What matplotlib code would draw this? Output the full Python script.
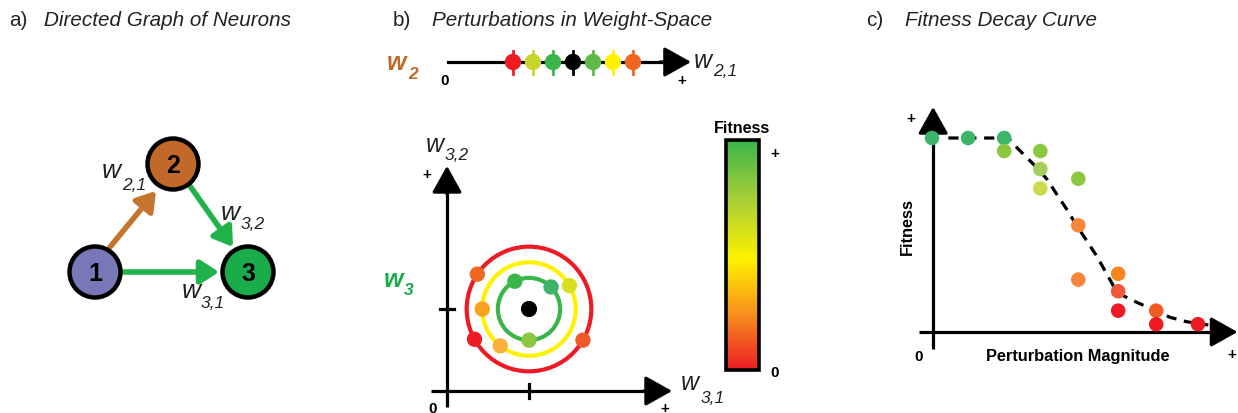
import numpy as np
import matplotlib
matplotlib.use('Agg')
import matplotlib.pyplot as plt
from matplotlib.patches import Circle
from matplotlib.colors import LinearSegmentedColormap

plt.rcParams['font.family'] = ['Liberation Sans', 'DejaVu Sans']

# panel a: three neurons and their connections
node_labels = ['1', '2', '3']
node_colors = ['#7878b9', '#c1692b', '#1aab4a']
node_xy = [(95, 273), (173, 165), (248, 273)]
edges = [((110, 248), (156, 192), '#c4762f'),
         ((190, 187), (233, 248), '#22b24c'),
         ((123, 273), (219, 273), '#22b24c')]

# panel b: 1-D perturbations along w2,1 (left to right)
line_colors = ['#ed1c24', '#c9d52c', '#39b54a', '#000000', '#5cba47', '#fff200', '#f26522']

# panel b: 2-D perturbations of w3 around the trained weights (1, 1)
ring_radius = [0.38, 0.57, 0.76]
ring_colors = ['#39b54a', '#fff200', '#ed1c24']
ring_dots = [  # (ring index, angle in degrees, colour)
    (0, 117, '#39b54a'), (0, 45, '#3cb46a'), (0, -90, '#8dc63f'),
    (1, 30, '#d7df23'), (1, 180, '#f8a21d'), (1, -128, '#fbb040'),
    (2, 146, '#f26522'), (2, -151, '#ed1c24'), (2, -30, '#f15a29'),
]

# colour scale for fitness, bottom (0) to top (+)
cbar_stops = [(0.0, '#ed1c24'), (0.25, '#f7941d'), (0.48, '#fff200'),
              (0.75, '#a6ce39'), (1.0, '#39b54a')]

# panel c: fitness against perturbation magnitude
magnitude = [0, 0.95, 1.9, 1.9, 2.85, 2.85, 2.85, 3.85, 3.85, 3.85,
             4.9, 4.9, 4.9, 5.9, 5.9, 7.0]
fitness = [1.0, 1.0, 1.0, 0.933, 0.933, 0.84, 0.74, 0.79, 0.55, 0.27,
           0.30, 0.21, 0.11, 0.11, 0.04, 0.04]
point_colors = ['#3cb56a', '#3cb56a', '#3cb56a', '#8dc63f', '#8dc63f', '#a5cf5c',
                '#cbdb4b', '#8dc63f', '#f7863a', '#f7863a', '#f7861e', '#f05a3a',
                '#ed1c24', '#f15a22', '#ed1c24', '#ed1c24']
curve_m = [0.43, 2.01, 2.14, 2.49, 2.75, 3.02, 3.28, 3.54, 3.81, 4.07, 4.33,
           4.60, 4.77, 5.03, 5.39, 5.82, 6.26, 6.70, 7.27]
curve_f = [1.0, 1.0, 0.969, 0.90, 0.849, 0.789, 0.711, 0.634, 0.548, 0.471, 0.393,
           0.299, 0.239, 0.187, 0.153, 0.115, 0.076, 0.053, 0.036]

W, H = 1238, 414
fig = plt.figure(figsize=(W / 100, H / 100), dpi=100)
ax = fig.add_axes([0, 0, 1, 1])
ax.set_xlim(0, W)
ax.set_ylim(H, 0)
ax.axis('off')

AX_LW = 2.3
TXT = '#222222'


def arrow(a, p0, p1, lw=AX_LW, color='k', hl=0.75, hw=0.42, ms=22, z=3):
    a.annotate('', xy=p1, xytext=p0, zorder=z,
               arrowprops=dict(arrowstyle='-|>,head_length=%s,head_width=%s' % (hl, hw),
                               lw=lw, color=color, shrinkA=0, shrinkB=0,
                               mutation_scale=ms))


def wlabel(x, y, sub, color=TXT, size=19, subsize=12.5, weight='normal', dx=19, dy=10):
    ax.text(x, y, 'w', fontsize=size, style='italic', weight=weight, color=color,
            ha='left', va='baseline')
    ax.text(x + dx, y + dy, sub, fontsize=subsize, style='italic', weight=weight,
            color=color, ha='left', va='baseline')


def title(x, xi, label, text):
    ax.text(x, 26, label, fontsize=14.9, color=TXT, ha='left', va='baseline')
    ax.text(xi, 26, text, fontsize=14.9, style='italic', color=TXT,
            ha='left', va='baseline')


def mark(x, y, s, size=11):
    ax.text(x, y, s, fontsize=size, weight='bold', ha='center', va='baseline')


title(9, 44, 'a)', 'Directed Graph of Neurons')
title(393, 432, 'b)', 'Perturbations in Weight-Space')
title(866, 905, 'c)', 'Fitness Decay Curve')

# ---- panel a ----
for p0, p1, c in edges:
    arrow(ax, p0, p1, lw=4.0, color=c, hl=0.65, hw=0.42, ms=17, z=2)
for lab, c, xy in zip(node_labels, node_colors, node_xy):
    ax.add_patch(Circle(xy, 25.5, facecolor=c, edgecolor='k', lw=3.2, zorder=4))
    ax.text(xy[0], xy[1] + 1, lab, fontsize=18, weight='bold', ha='center',
            va='center', zorder=5)
wlabel(102, 178, '2,1', dx=20, dy=12)
wlabel(221, 220, '3,2', dx=20, dy=9)
wlabel(182, 298, '3,1', dx=19, dy=10)

# ---- panel b, top line ----
ax.plot([448, 672], [63, 63], color='k', lw=AX_LW, zorder=2)
arrow(ax, (660, 63), (691, 63))
for i, c in enumerate(line_colors):
    x = 573 + (i - 3) * 20
    ax.plot([x, x], [52, 75], color=c, lw=2, zorder=3)
    ax.add_patch(Circle((x, 63), 7.5, color=c, zorder=4))
mark(445, 85, '0')
mark(682, 85, '+')
wlabel(694, 68, '2,1', size=18, subsize=12.5, dx=19, dy=8)
wlabel(387, 70, '2', color='#c1692b', size=18, subsize=12.5, weight='bold', dx=21, dy=9)
wlabel(384, 287, '3', color='#1aab4a', size=18, subsize=12.5, weight='bold', dx=20, dy=8)

# ---- panel b, weight space of w3 ----
u = 82.0
ax_b = fig.add_axes([400 / W, 0, 300 / W, 284 / H])
ax_b.set_xlim((400 - 447) / u, (700 - 447) / u)
ax_b.set_ylim((392 - 414) / u, (392 - 130) / u)
ax_b.axis('off')
ax_b.plot([-0.195, 2.5], [0, 0], color='k', lw=AX_LW, solid_capstyle='butt')
ax_b.plot([0, 0], [-0.195, 2.5], color='k', lw=AX_LW, solid_capstyle='butt')
arrow(ax_b, (2.4, 0), (2.745, 0))
arrow(ax_b, (0, 2.4), (0, 2.745))
ax_b.plot([1, 1], [-0.09, 0.09], color='k', lw=AX_LW)
ax_b.plot([-0.09, 0.09], [1, 1], color='k', lw=AX_LW)
for r, c in zip(ring_radius, ring_colors):
    ax_b.add_patch(Circle((1, 1), r, fill=False, edgecolor=c, lw=3))
ax_b.add_patch(Circle((1, 1), 0.09, color='k', zorder=4))
for k, ang, c in ring_dots:
    t = np.deg2rad(ang)
    ax_b.add_patch(Circle((1 + ring_radius[k] * np.cos(t), 1 + ring_radius[k] * np.sin(t)),
                          0.085, color=c, zorder=4))
mark(433, 413, '0')
mark(427, 179, '+')
mark(665, 413, '+')
wlabel(426, 152, '3,2', size=18, dx=19, dy=8)
wlabel(681, 390, '3,1', size=18, dx=20, dy=13)

# ---- colour bar ----
cmap = LinearSegmentedColormap.from_list('fit', cbar_stops)
grad = np.linspace(1, 0, 256).reshape(-1, 1)
ax.imshow(grad, cmap=cmap, aspect='auto', extent=(726, 759, 371, 141), zorder=2)
ax.add_patch(plt.Rectangle((726, 141), 33, 230, fill=False, edgecolor='k', lw=2.6, zorder=3))
ax.set_xlim(0, W)
ax.set_ylim(H, 0)
ax.text(742, 133, 'Fitness', fontsize=11.5, weight='bold', ha='center', va='baseline')
mark(775, 158, '+')
mark(775, 377, '0')

# ---- panel c ----
sx, sy = 38.0, 194.0
ax_c = fig.add_axes([895 / W, (H - 365) / H, 343 / W, 270 / H])
ax_c.set_xlim((895 - 932) / sx, (1238 - 932) / sx)
ax_c.set_ylim((333 - 365) / sy, (333 - 95) / sy)
ax_c.axis('off')
ax_c.plot([-0.34, 7.6], [0, 0], color='k', lw=AX_LW, solid_capstyle='butt')
ax_c.plot([0.03, 0.03], [-0.088, 1.08], color='k', lw=AX_LW, solid_capstyle='butt')
arrow(ax_c, (7.5, 0), (8.04, 0))
arrow(ax_c, (0.03, 1.05), (0.03, 1.16))
ax_c.plot(curve_m, curve_f, color='k', lw=2.3, ls=(0, (3.2, 2.4)), zorder=2)
ax_c.scatter(magnitude, fitness, s=110, c=point_colors, linewidths=0, zorder=3)
mark(911, 123, '+')
mark(919, 361, '0')
mark(1232, 359, '+')
ax.text(1078, 361, 'Perturbation Magnitude', fontsize=11.8, weight='bold',
        ha='center', va='baseline')
ax.text(907, 227, 'Fitness', fontsize=11.8, weight='bold', rotation=90,
        ha='center', va='center')

fig.savefig('out.png', dpi=100)
